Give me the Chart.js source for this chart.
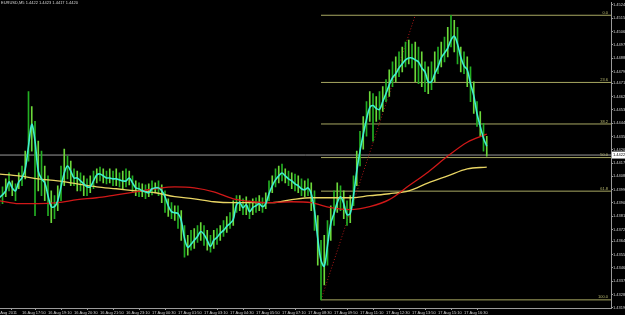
<!DOCTYPE html>
<html><head><meta charset="utf-8">
<script src="https://cdn.jsdelivr.net/npm/chart.js@4/dist/chart.umd.min.js"></script>
<style>html,body{margin:0;padding:0;background:#000;overflow:hidden}#wrap{width:625px;height:315px;position:relative;background:#000}</style>
</head><body><div id="wrap"><canvas id="c" width="625" height="315"></canvas></div>
<script>
// ---- data (time in minutes from 16 Aug 17:50, prices EURUSD) ----
const symbolTitle = "EURUSD,M5 1.4422 1.4423 1.4417 1.4420";
const barStartMinute = -70, barStepMinutes = 10;
const smoothLine = [
1.43935,1.43955,1.43982,1.44042,1.44002,1.43982,1.44042,1.44069,1.44130,1.44284,
1.44432,1.44318,1.44116,1.44063,1.44036,1.43949,1.43875,1.43875,1.43915,1.44009,
1.44103,1.44150,1.44116,1.44069,1.44069,1.44049,1.44029,1.44009,1.44009,1.44049,
1.44089,1.44096,1.44083,1.44069,1.44069,1.44063,1.44063,1.44056,1.44049,1.44049,
1.44069,1.44036,1.44002,1.43996,1.43982,1.43975,1.43969,1.43996,1.44002,1.44002,
1.43982,1.43942,1.43881,1.43841,1.43834,1.43828,1.43781,1.43660,1.43600,1.43620,
1.43647,1.43673,1.43707,1.43687,1.43647,1.43606,1.43647,1.43667,1.43694,1.43714,
1.43741,1.43761,1.43788,1.43888,1.43902,1.43868,1.43888,1.43841,1.43868,1.43881,
1.43895,1.43875,1.43895,1.43962,1.44016,1.44056,1.44083,1.44103,1.44083,1.44063,
1.44049,1.44029,1.44016,1.43996,1.43989,1.44002,1.43962,1.43848,1.43660,1.43512,
1.43472,1.43613,1.43761,1.43828,1.43902,1.43942,1.43895,1.43821,1.43828,1.43949,
1.44116,1.44251,1.44365,1.44465,1.44546,1.44559,1.44539,1.44532,1.44586,1.44640,
1.44700,1.44747,1.44774,1.44814,1.44841,1.44868,1.44881,1.44881,1.44868,1.44854,
1.44814,1.44787,1.44720,1.44720,1.44774,1.44821,1.44881,1.44915,1.44948,1.45002,
1.45029,1.44975,1.44888,1.44828,1.44801,1.44707,1.44626,1.44505,1.44418,1.44338,
1.44284];
const barHigh = [
1.43982,1.44009,1.44063,1.44103,1.44049,1.44029,1.44103,1.44150,1.44251,1.44653,
1.44552,1.44452,1.44318,1.44251,1.44150,1.44083,1.43982,1.43949,1.44016,1.44150,
1.44264,1.44217,1.44183,1.44130,1.44116,1.44103,1.44083,1.44063,1.44083,1.44116,
1.44130,1.44143,1.44130,1.44116,1.44130,1.44116,1.44130,1.44103,1.44116,1.44130,
1.44116,1.44083,1.44049,1.44036,1.44029,1.44022,1.44029,1.44049,1.44036,1.44049,
1.44022,1.43982,1.43928,1.43902,1.43881,1.43881,1.43848,1.43747,1.43680,1.43714,
1.43727,1.43747,1.43767,1.43747,1.43714,1.43680,1.43714,1.43727,1.43747,1.43781,
1.43808,1.43835,1.43915,1.43949,1.43949,1.43928,1.43942,1.43915,1.43928,1.43935,
1.43949,1.43935,1.43969,1.44049,1.44083,1.44130,1.44150,1.44163,1.44130,1.44116,
1.44103,1.44096,1.44083,1.44063,1.44049,1.44063,1.44036,1.43982,1.43814,1.43647,
1.43680,1.43781,1.43881,1.43982,1.44036,1.44016,1.43982,1.43915,1.43949,1.44083,
1.44251,1.44385,1.44485,1.44586,1.44653,1.44640,1.44620,1.44653,1.44687,1.44734,
1.44801,1.44854,1.44888,1.44922,1.44955,1.44989,1.45002,1.44975,1.44989,1.44955,
1.44922,1.44854,1.44821,1.44854,1.44922,1.44955,1.44989,1.45022,1.45089,1.45170,
1.45136,1.45089,1.44955,1.44922,1.44888,1.44821,1.44720,1.44586,1.44519,1.44438,
1.44351];
const barLow = [
1.43881,1.43895,1.43942,1.43982,1.43949,1.43915,1.43996,1.44016,1.44063,1.44183,
1.44251,1.43814,1.43982,1.43949,1.43915,1.43814,1.43767,1.43794,1.43848,1.43915,
1.44016,1.44063,1.44016,1.44016,1.43982,1.43982,1.43949,1.43949,1.43969,1.43996,
1.44036,1.44049,1.44036,1.44029,1.44036,1.44016,1.44016,1.44009,1.43996,1.44009,
1.44022,1.43969,1.43949,1.43942,1.43942,1.43928,1.43942,1.43955,1.43969,1.43949,
1.43902,1.43835,1.43808,1.43794,1.43781,1.43727,1.43647,1.43533,1.43546,1.43580,
1.43593,1.43633,1.43647,1.43613,1.43580,1.43566,1.43593,1.43620,1.43647,1.43673,
1.43700,1.43727,1.43747,1.43835,1.43848,1.43821,1.43821,1.43794,1.43821,1.43835,
1.43848,1.43835,1.43861,1.43915,1.43969,1.44009,1.44036,1.44049,1.44036,1.44016,
1.43996,1.43982,1.43969,1.43949,1.43942,1.43949,1.43848,1.43714,1.43479,1.43244,
1.43345,1.43479,1.43647,1.43747,1.43835,1.43848,1.43794,1.43747,1.43767,1.43881,
1.44016,1.44150,1.44264,1.44351,1.44452,1.44318,1.44452,1.44465,1.44519,1.44586,
1.44620,1.44687,1.44720,1.44754,1.44787,1.44821,1.44841,1.44814,1.44720,1.44707,
1.44687,1.44653,1.44640,1.44667,1.44720,1.44774,1.44821,1.44854,1.44888,1.44955,
1.44922,1.44841,1.44787,1.44774,1.44687,1.44586,1.44506,1.44418,1.44351,1.44251,
1.44217];
const maStartMinute = -70, maStepMinutes = 60;
const redMA = [1.43915,1.43895,1.43895,1.43902,1.43922,1.43935,1.43955,1.43975,1.43996,1.44009,
1.44002,1.43975,1.43928,1.43908,1.43902,1.43908,1.43902,1.43868,1.43855,1.43875,
1.43922,1.44016,1.44110,1.44217,1.44311,1.44365];
const yellowMA = [1.44096,1.44083,1.44063,1.44049,1.44029,1.44009,1.43996,1.43982,1.43969,1.43942,
1.43928,1.43908,1.43902,1.43902,1.43902,1.43922,1.43935,1.43935,1.43935,1.43949,
1.43962,1.43982,1.44036,1.44083,1.44130,1.44143];
const fibHigh = 1.45170, fibLow = 1.43244;
const fibStartMinute = 920, fibTrendEndMinute = 1210;
const fibRatios = [0, 23.6, 38.2, 50, 61.8, 100];
const fibLabels = ["0.0","23.6","38.2","50.0","61.8","100.0"];
const bidPrice = 1.44224, bidLabel = "1.4422";
const priceTicks = [1.4524,1.4515,1.4506,1.4497,1.4488,1.4479,1.4471,1.4462,1.4453,1.4444,1.4435,1.4426,
1.4417,1.4408,1.4399,1.4390,1.4381,1.4372,1.4364,1.4355,1.4346,1.4337,1.4328,1.4319];
const timeTickMinutes = [-67,0,80,160,240,320,400,480,560,640,720,800,880,960,1040,1120,1200,1280,1360];
const timeTickLabels = ["Aug 2011","16 Aug 17:50","16 Aug 19:10","16 Aug 20:30","16 Aug 21:50","16 Aug 23:10",
"17 Aug 00:30","17 Aug 01:50","17 Aug 03:10","17 Aug 04:30","17 Aug 05:50","17 Aug 07:10","17 Aug 08:30",
"17 Aug 09:50","17 Aug 11:10","17 Aug 12:30","17 Aug 13:50","17 Aug 15:10","17 Aug 16:30"];
const xMin = -67.7, xMax = 1812.3, yMin = 1.43189, yMax = 1.45257;

// ---- build ----
const FONT = "'Liberation Sans', Arial, sans-serif";
Chart.defaults.font.family = FONT;
Chart.defaults.font.size = 4;
const series = (arr, start, step) => arr.map((v, i) => ({x: start + step * i, y: v}));
const candles = barHigh.map((h, i) => ({x: barStartMinute + barStepMinutes * i, y: [barLow[i], h]}));
const FIB_COLOR = '#a8a862';
const fibPrice = r => fibHigh - r / 100 * (fibHigh - fibLow);
const fibSets = fibRatios.map(r => ({
  type: 'line', data: [{x: fibStartMinute, y: fibPrice(r)}, {x: xMax, y: fibPrice(r)}],
  borderColor: FIB_COLOR, borderWidth: 1, pointRadius: 0, order: 5
}));

const overlay = {
  id: 'overlay',
  afterDraw(chart) {
    const {ctx, chartArea, scales: {y}} = chart;
    ctx.save();
    ctx.font = "4px " + FONT;
    ctx.fillStyle = '#d8d8d8'; ctx.textAlign = 'left'; ctx.textBaseline = 'top';
    ctx.fillText(symbolTitle, 1, 1);
    ctx.fillStyle = '#b8b870'; ctx.textAlign = 'right'; ctx.textBaseline = 'bottom';
    fibRatios.forEach((r, i) => ctx.fillText(fibLabels[i], chartArea.right - 3, y.getPixelForValue(fibPrice(r)) - 0.5));
    const by = y.getPixelForValue(bidPrice);
    ctx.fillStyle = '#ffffff'; ctx.fillRect(chartArea.right + 1, by - 3.5, 14, 7);
    ctx.fillStyle = '#000000'; ctx.textAlign = 'left'; ctx.textBaseline = 'middle';
    ctx.fillText(bidLabel, chartArea.right + 2, by);
    ctx.restore();
  }
};

new Chart(document.getElementById('c'), {
  type: 'line',
  data: {
    datasets: [
      {type: 'line', data: series(smoothLine, barStartMinute, barStepMinutes), borderColor: '#3ff0cf', borderWidth: 1.6, pointRadius: 0, tension: 0.35, order: 0},
      {type: 'line', data: series(redMA, maStartMinute, maStepMinutes), borderColor: '#d01818', borderWidth: 1.3, pointRadius: 0, cubicInterpolationMode: 'monotone', order: 1},
      {type: 'line', data: series(yellowMA, maStartMinute, maStepMinutes), borderColor: '#e9d564', borderWidth: 1.3, pointRadius: 0, cubicInterpolationMode: 'monotone', order: 2},
      {type: 'bar', data: candles, backgroundColor: c => (c.dataIndex % 2 ? '#23b023' : '#6cd83a'), barThickness: 1, grouped: false, order: 3},
      {type: 'line', data: [{x: fibStartMinute, y: fibLow}, {x: fibTrendEndMinute, y: fibHigh}], borderColor: '#b01818', borderDash: [1, 2], borderWidth: 1, pointRadius: 0, order: 4},
      ...fibSets,
      {type: 'line', data: [{x: xMin, y: bidPrice}, {x: xMax, y: bidPrice}], borderColor: '#9a9a9a', borderWidth: 1, pointRadius: 0, order: 6}
    ]
  },
  options: {
    responsive: false, animation: false, devicePixelRatio: 1,
    layout: {padding: 0},
    plugins: {legend: {display: false}, tooltip: {enabled: false}, title: {display: false}},
    scales: {
      x: {
        type: 'linear', min: xMin, max: xMax, offset: false, position: 'bottom',
        afterFit: s => { s.height = 7; },
        afterBuildTicks: s => { s.ticks = timeTickMinutes.map(v => ({value: v})); },
        ticks: {autoSkip: false, maxRotation: 0, minRotation: 0, align: 'start', color: '#cfcfcf', padding: 0,
                callback: (v, i) => timeTickLabels[i]},
        grid: {drawOnChartArea: false, drawTicks: true, tickLength: 2, color: '#9a9a9a'},
        border: {display: true, color: '#9a9a9a'}
      },
      y: {
        type: 'linear', position: 'right', min: yMin, max: yMax,
        afterFit: s => { s.width = 14; },
        afterBuildTicks: s => { s.ticks = priceTicks.map(v => ({value: v})); },
        ticks: {autoSkip: false, color: '#cfcfcf', padding: 0, callback: v => v.toFixed(4)},
        grid: {drawOnChartArea: false, drawTicks: true, tickLength: 2, color: '#9a9a9a'},
        border: {display: true, color: '#9a9a9a'}
      }
    }
  },
  plugins: [overlay]
});
</script></body></html>
